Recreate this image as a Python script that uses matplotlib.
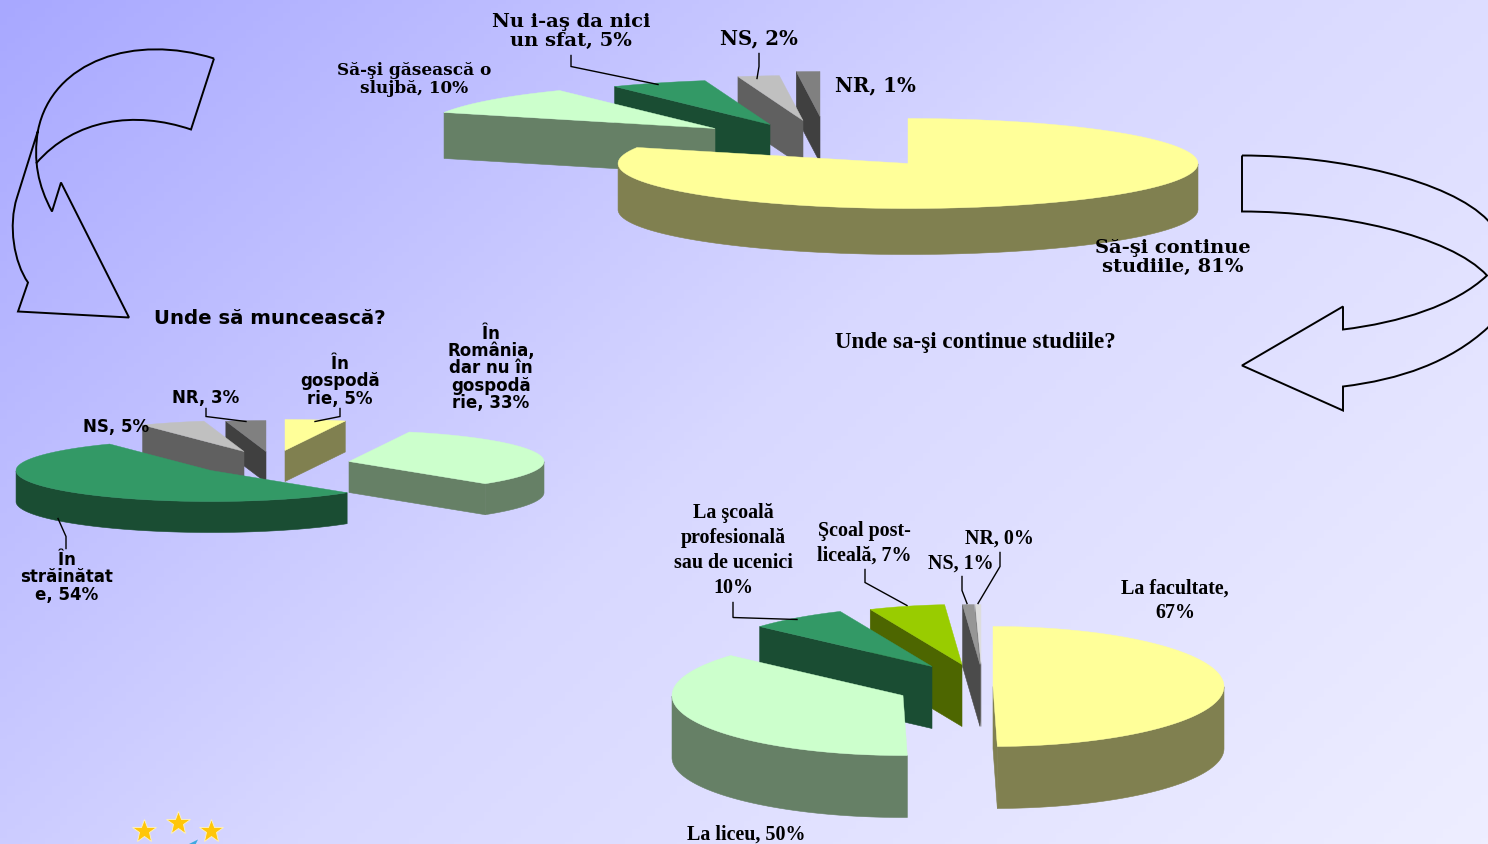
import numpy as np
import matplotlib
matplotlib.use("Agg")
import matplotlib.pyplot as plt
from matplotlib.colors import LinearSegmentedColormap
from matplotlib.patches import PathPatch, Polygon
from matplotlib.path import Path

# slice sizes as drawn in the picture (percent of the circle), clockwise from 12 o'clock
top_names = ["Să-și continue studiile", "Să-și găsească o slujbă", "Nu i-aș da nici un sfat", "NS", "NR"]
top_shares = [80.8, 10.2, 5.4, 2.3, 1.3]

left_names = ["În gospodărie", "În România", "În străinătate", "NS", "NR"]
left_shares = [5.0, 32.7, 53.6, 5.4, 3.3]

bottom_names = ["La facultate", "La liceu", "La școală profesională", "Școal post-liceală", "NS", "NR"]
bottom_shares = [49.7, 36.9, 6.9, 5.3, 0.8, 0.4]

# label texts
top_labels = ["Să-şi continue\nstudiile, 81%", "Să-şi găsească o\nslujbă, 10%", "Nu i-aş da nici\nun sfat, 5%", "NS, 2%", "NR, 1%"]
left_labels = ["În\ngospodă\nrie, 5%", "În\nRomânia,\ndar nu în\ngospodă\nrie, 33%", "În\nstrăinătat\ne, 54%", "NS, 5%", "NR, 3%"]
bottom_labels = ["La facultate,\n67%", "La liceu, 50%", "La şcoală\nprofesională\nsau de ucenici\n10%", "Şcoal post-\nliceală, 7%", "NS, 1%", "NR, 0%"]

YELLOW = ("#FFFF99", "#808050")
LTGREEN = ("#CCFFCC", "#668066")
GREEN = ("#339966", "#1A4D33")
LIME = ("#99CC00", "#4D6600")
GREY_L = ("#C0C0C0", "#606060")
GREY_D = ("#808080", "#404040")
GREY_M = ("#969696", "#4B4B4B")
GREY_XL = ("#DDDDDD", "#707070")

W, H = 1488, 845
fig = plt.figure(figsize=(W / 100, H / 100), dpi=100)
ax = fig.add_axes([0, 0, 1, 1])
ax.set_xlim(0, W)
ax.set_ylim(H - 1.5, -1.5)
ax.axis("off")

# diagonal background
yy, xx = np.mgrid[0:1:200j, 0:1:200j]
cmap = LinearSegmentedColormap.from_list("bg", ["#A8A8FF", "#D8D8FF", "#EEEEFF"])
ax.imshow((xx * 0.62 + yy * 0.38), extent=(0, W, H + 5, -5), cmap=cmap, vmin=0, vmax=1, aspect="auto", zorder=0)


def draw_slice(cx, cy, rx, ry, depth, t0, t1, colors, z):
    top, side = colors
    t = np.radians(np.linspace(t0, t1, 120))
    x = cx + rx * np.sin(t)
    y = cy - ry * np.cos(t)
    # radial walls, only those that face the viewer
    if np.sin(t[0]) < -1e-6:
        ax.add_patch(Polygon([(cx, cy), (x[0], y[0]), (x[0], y[0] + depth), (cx, cy + depth)],
                             fc=side, ec=side, lw=0.4, zorder=z))
    if np.sin(t[-1]) > 1e-6:
        ax.add_patch(Polygon([(cx, cy), (x[-1], y[-1]), (x[-1], y[-1] + depth), (cx, cy + depth)],
                             fc=side, ec=side, lw=0.4, zorder=z))
    # rim, front half only
    front = np.cos(t) < 0
    if front.any():
        fx, fy = x[front], y[front]
        pts = np.r_[np.c_[fx, fy], np.c_[fx[::-1], fy[::-1] + depth]]
        ax.add_patch(Polygon(pts, fc=side, ec=side, lw=0.4, zorder=z))
    ax.add_patch(Polygon(np.r_[[(cx, cy)], np.c_[x, y]], fc=top, ec=top, lw=0.3, zorder=z + 0.1))


def draw_pie(shares, centers, rx, ry, depth, colors, order, base_z):
    edges = np.r_[0, np.cumsum(shares)] / np.sum(shares) * 360
    for i in range(len(shares)):
        z = base_z + order.index(i)
        draw_slice(centers[i][0], centers[i][1], rx, ry, depth, edges[i], edges[i + 1], colors[i], z)


# top pie
draw_pie(top_shares, [(908, 163), (715, 128), (770, 124), (803, 120), (820, 116)],
         290, 45, 46, [YELLOW, LTGREEN, GREEN, GREY_L, GREY_D], [4, 3, 2, 1, 0], 2)
# left pie
draw_pie(left_shares, [(285, 450), (349, 461), (211, 470), (244, 451), (266, 451)],
         195, 31, 31, [YELLOW, LTGREEN, GREEN, GREY_L, GREY_D], [4, 3, 0, 1, 2], 2)
# bottom pie
draw_pie(bottom_shares, [(993, 686), (903, 695), (932, 666), (962, 664), (980, 664), (981, 664)],
         231, 60, 62, [YELLOW, LTGREEN, GREEN, LIME, GREY_M, GREY_XL], [5, 4, 3, 2, 1, 0], 2)


def bent_arrow(verts, codes):
    ax.add_patch(PathPatch(Path(verts, codes), fc="none", ec="black", lw=1.4, zorder=12, joinstyle="miter"))


M, L, C = Path.MOVETO, Path.LINETO, Path.CURVE4
# right arrow
bent_arrow([(1242, 155), (1340, 155), (1450, 180), (1488, 220),
            (1510, 245), (1510, 300), (1488, 327), (1450, 362), (1400, 379), (1343, 386),
            (1343, 410), (1242, 365), (1343, 306), (1343, 329),
            (1400, 322), (1455, 305), (1487, 275), (1450, 235), (1340, 211), (1242, 211),
            (1242, 155)],
           [M] + [C] * 3 + [C] * 6 + [L] * 4 + [C] * 6 + [L])
# left arrow
bent_arrow([(214, 58), (135, 33), (52, 60), (38, 130),
            (17, 197), (8, 225), (14, 262), (28, 282),
            (18, 311), (129, 317), (61, 182), (52, 211),
            (38, 185), (33, 160), (38, 130)],
           [M, C, C, C, L, C, C, C, L, L, L, L, C, C, C])
bent_arrow([(36, 163), (75, 118), (135, 110), (191, 129), (214, 58)],
           [M, C, C, C, L])


def label(x, y, s, font, size, lsp=1.15, **kw):
    ax.text(x, y, s, family=font, fontsize=size, fontweight="bold", ha="center", va="center",
            linespacing=lsp, color="black", zorder=20, **kw)


def leader(pts):
    ax.plot(*zip(*pts), color="black", lw=1.0, zorder=19, solid_joinstyle="miter")


# top pie labels
SERIF_W = "DejaVu Serif"
label(1173, 256, top_labels[0], SERIF_W, 14, 1.08)
label(414, 78, top_labels[1], SERIF_W, 12.2, 1.08)
label(571, 30, top_labels[2], SERIF_W, 14, 1.08)
label(759, 37, top_labels[3], SERIF_W, 14.2)
label(875, 84, top_labels[4], SERIF_W, 14.2)
leader([(571, 55), (571, 66), (658, 84)])
leader([(759, 53), (759, 66), (757, 78)])

# left pie labels
SANS_W = "DejaVu Sans"
label(340, 380, left_labels[0], SANS_W, 12, 0.95)
label(491, 367, left_labels[1], SANS_W, 12, 0.95)
label(67, 576, left_labels[2], SANS_W, 12, 0.95)
label(116, 426, left_labels[3], SANS_W, 12)
label(206, 397, left_labels[4], SANS_W, 12)
leader([(340, 408), (340, 416), (315, 421)])
leader([(206, 408), (206, 416), (246, 421)])
leader([(66, 548), (66, 536), (58, 518)])

# bottom pie labels
SERIF = "Liberation Serif"
label(1175, 599, bottom_labels[0], SERIF, 14.4, 1.32)
label(746, 833, bottom_labels[1], SERIF, 14.4)
label(733, 549, bottom_labels[2], SERIF, 14.4, 1.32)
label(864, 542, bottom_labels[3], SERIF, 14.4, 1.32)
label(961, 562, bottom_labels[4], SERIF, 14.4)
label(999, 537, bottom_labels[5], SERIF, 14.4)
leader([(865, 569), (865, 582), (907, 605)])
leader([(733, 602), (733, 617), (797, 619)])
leader([(962, 576), (962, 590), (967, 603)])
leader([(1000, 552), (1000, 566), (978, 603)])

# titles
ax.text(975, 341, "Unde sa-şi continue studiile?", family=SERIF, fontsize=16.6, fontweight="bold",
        ha="center", va="center", zorder=20)
ax.text(270, 317, "Unde să muncească?", family=SANS_W, fontsize=14.2, fontweight="bold",
        ha="center", va="center", zorder=20)

# logo stars at the bottom
ax.plot([144, 178, 211], [830, 822, 830], ls="none", marker="*", ms=18, mfc="#FFC60A", mec="#FFF4C0", mew=0.6, zorder=20)
ax.add_patch(Polygon([(186, 845), (198, 839), (195, 845)], fc="#3FA9E0", ec="none", zorder=20))

fig.savefig("out.png", dpi=100)
